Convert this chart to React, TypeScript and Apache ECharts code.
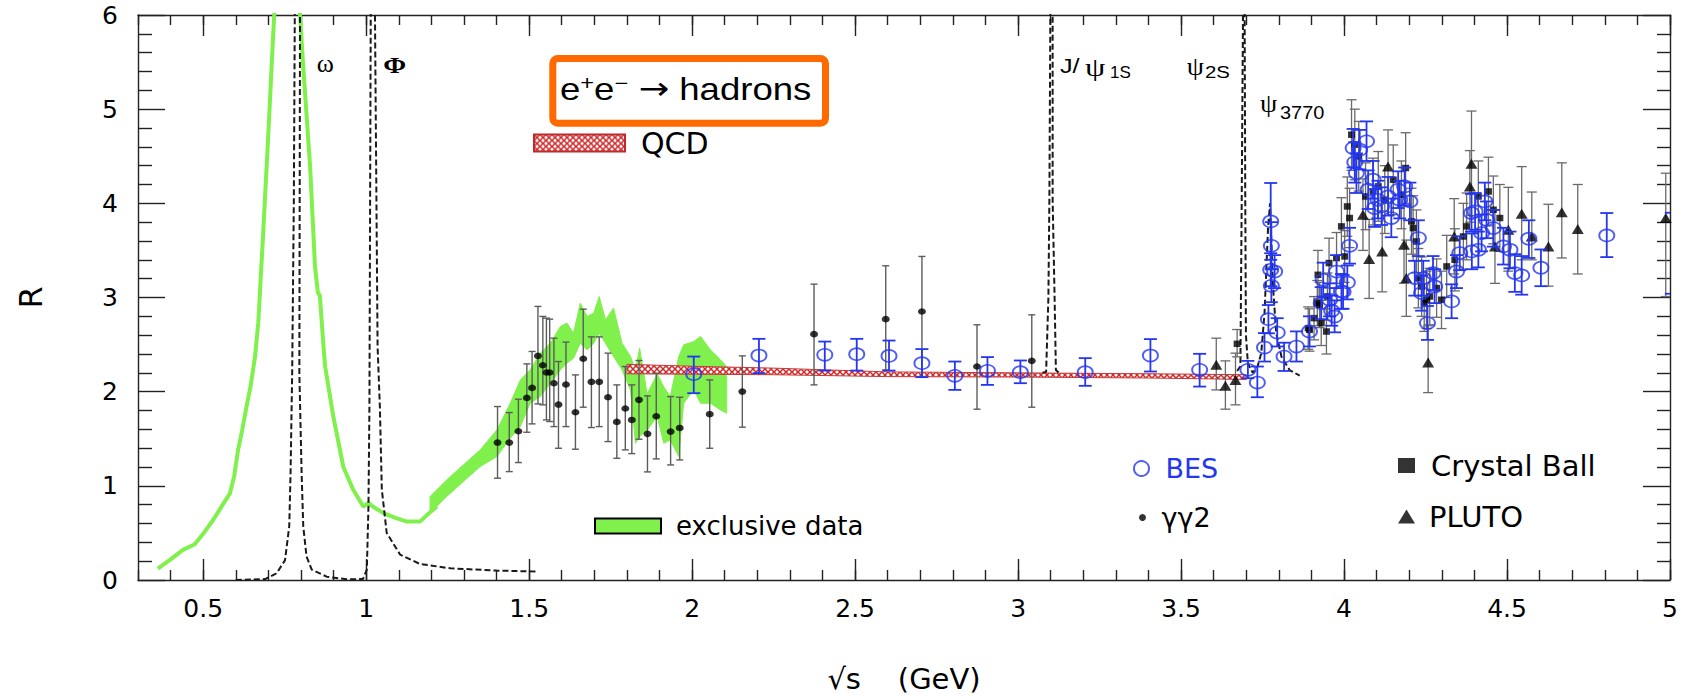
import React, { useEffect, useRef } from "react";
import * as echarts from "echarts";

// ---------------- axis ticks ----------------
const X_MAJOR = [0.5, 1, 1.5, 2, 2.5, 3, 3.5, 4, 4.5, 5];

// ---------------- exclusive data (green) ----------------
const exclLineX = [0.361, 0.4, 0.438, 0.474, 0.5, 0.531, 0.56, 0.582, 0.595, 0.607, 0.62, 0.633, 0.645, 0.659, 0.669, 0.684, 0.7, 0.715, 0.724, 0.757, 0.79, 0.807, 0.828, 0.843, 0.852, 0.858, 0.869, 0.874, 0.899, 0.93, 0.96, 0.991, 1.007, 1.02, 1.053, 1.09, 1.125, 1.165, 1.19, 1.217];
const exclLineY = [0.12, 0.22, 0.32, 0.38, 0.49, 0.64, 0.8, 0.92, 1.1, 1.38, 1.6, 1.84, 2.05, 2.37, 2.73, 3.68, 4.75, 5.81, 6.4, 7.5, 6.4, 5.45, 4.39, 3.33, 3.05, 3.02, 2.48, 2.27, 1.74, 1.2, 0.96, 0.78, 0.82, 0.78, 0.71, 0.66, 0.62, 0.62, 0.7, 0.78];

const exclBandX = [1.196, 1.247, 1.298, 1.35, 1.401, 1.442, 1.473, 1.503, 1.534, 1.565, 1.596, 1.616, 1.636, 1.657, 1.678, 1.698, 1.715, 1.734, 1.759, 1.785, 1.811, 1.826, 1.839, 1.862, 1.893, 1.913, 1.933, 1.959, 1.974, 2.005, 2.026, 2.056, 2.087, 2.106];
const exclBandLo = [0.709, 0.886, 1.045, 1.205, 1.311, 1.505, 1.629, 1.877, 1.948, 2.09, 2.232, 2.302, 2.355, 2.515, 2.444, 2.515, 2.621, 2.515, 2.373, 2.232, 2.019, 1.452, 1.523, 1.594, 1.736, 1.452, 1.488, 1.311, 1.877, 2.019, 1.877, 1.877, 1.806, 1.771];
const exclBandHi = [0.886, 1.063, 1.222, 1.382, 1.594, 1.877, 2.124, 2.231, 2.409, 2.515, 2.692, 2.728, 2.621, 2.94, 2.798, 2.834, 3.011, 2.763, 2.887, 2.515, 2.373, 2.231, 2.462, 1.974, 2.19, 2.05, 1.948, 2.373, 2.497, 2.532, 2.586, 2.444, 2.338, 2.267];

// ---------------- QCD band ----------------
const qcdX = [1.8, 2.0, 2.25, 2.6, 3.0, 3.4, 3.7];
const qcdLo = [2.19, 2.185, 2.18, 2.16, 2.155, 2.145, 2.13];
const qcdHi = [2.29, 2.27, 2.25, 2.21, 2.2, 2.19, 2.18];

// ---------------- resonances (dashed) ----------------
const omegaPhiX = [0.6, 0.69, 0.725, 0.751, 0.764, 0.768, 0.773, 0.778, 0.781, 0.789, 0.797, 0.796, 0.795, 0.802, 0.807, 0.817, 0.833, 0.879, 0.94, 0.99, 1.002, 1.007, 1.01, 1.014, 1.02, 1.027, 1.035, 1.042, 1.048, 1.063, 1.104, 1.165, 1.258, 1.4, 1.52];
const omegaPhiY = [0.0, 0.01, 0.07, 0.21, 0.57, 1.13, 2.2, 4.0, 6.0, 6.8, 6.0, 4.0, 2.2, 1.13, 0.57, 0.25, 0.11, 0.035, 0.007, 0.01, 0.11, 0.78, 1.84, 6.0, 6.8, 6.0, 2.48, 1.84, 0.96, 0.5, 0.27, 0.17, 0.124, 0.1, 0.09];
const jpsiX = [3.075, 3.086, 3.093, 3.096, 3.099, 3.1025, 3.106, 3.106, 3.112, 3.116, 3.125];
const jpsiY = [2.2, 2.21, 3.0, 4.04, 6.0, 6.8, 6.0, 4.04, 3.0, 2.23, 2.2];
const psiX = [3.672, 3.682, 3.686, 3.69, 3.6925, 3.695, 3.697, 3.699, 3.705, 3.72, 3.735, 3.746, 3.756, 3.767, 3.773, 3.778, 3.782, 3.792, 3.808, 3.833, 3.864];
const psiY = [2.22, 2.27, 4.0, 6.0, 6.8, 6.0, 4.0, 2.6, 2.3, 2.2, 2.27, 2.41, 2.83, 3.75, 4.0, 3.5, 3.12, 2.62, 2.37, 2.23, 2.17];

// ---------------- BES ----------------
const besX = [2.005, 2.205, 2.407, 2.505, 2.604, 2.705, 2.806, 2.906, 3.007, 3.206, 3.406, 3.557, 3.705, 3.734, 3.756, 3.768, 3.775, 3.777, 3.775, 3.787, 3.777, 3.795, 3.816, 3.854, 3.894, 3.93, 3.936, 3.956, 3.962, 3.971, 3.977, 3.992, 3.997, 4.01, 4.017, 4.028, 4.033, 4.038, 4.048, 4.069, 4.074, 4.089, 4.094, 4.104, 4.115, 4.135, 4.145, 4.166, 4.171, 4.186, 4.202, 4.217, 4.228, 4.238, 4.243, 4.256, 4.273, 4.278, 4.33, 4.345, 4.355, 4.391, 4.392, 4.402, 4.412, 4.422, 4.432, 4.437, 4.458, 4.489, 4.509, 4.524, 4.545, 4.567, 4.604, 4.806, 5.004];
const besY = [2.186, 2.384, 2.391, 2.398, 2.38, 2.303, 2.168, 2.221, 2.207, 2.207, 2.384, 2.232, 2.232, 2.097, 2.469, 2.77, 3.808, 3.549, 3.294, 3.276, 3.124, 2.628, 2.373, 2.479, 2.639, 2.94, 3.188, 2.976, 2.86, 2.798, 3.276, 3.064, 3.06, 3.16, 3.549, 4.587, 4.435, 4.322, 4.57, 4.658, 4.145, 4.251, 3.95, 4.038, 3.967, 4.073, 3.844, 4.145, 4.038, 4.18, 4.02, 3.206, 3.631, 3.047, 3.206, 2.728, 3.259, 3.117, 2.958, 3.276, 3.472, 3.897, 3.489, 3.914, 3.507, 3.684, 4.02, 3.826, 3.737, 3.542, 3.507, 3.259, 3.234, 3.624, 3.316, 3.659, 3.47];
const besLo = [1.984, 2.196, 2.224, 2.224, 2.224, 2.154, 2.019, 2.072, 2.09, 2.062, 2.214, 2.054, 2.143, 1.941, 2.32, 2.62, 3.4, 3.3, 3.12, 3.1, 2.95, 2.48, 2.22, 2.32, 2.48, 2.77, 3.01, 2.8, 2.7, 2.63, 3.1, 2.88, 2.88, 2.98, 3.36, 4.38, 4.22, 4.11, 4.36, 4.45, 3.94, 4.05, 3.75, 3.84, 3.77, 3.87, 3.64, 3.95, 3.84, 3.98, 3.82, 3.02, 3.44, 2.86, 3.02, 2.55, 3.08, 2.94, 2.78, 3.1, 3.29, 3.7, 3.3, 3.72, 3.32, 3.49, 3.82, 3.63, 3.54, 3.35, 3.31, 3.06, 3.03, 3.42, 3.12, 3.429, 3.04];
const besHi = [2.373, 2.561, 2.532, 2.561, 2.543, 2.452, 2.32, 2.367, 2.331, 2.356, 2.558, 2.402, 2.327, 2.267, 2.622, 2.92, 4.216, 3.8, 3.47, 3.45, 3.3, 2.78, 2.52, 2.64, 2.8, 3.11, 3.37, 3.15, 3.02, 2.97, 3.45, 3.25, 3.24, 3.34, 3.74, 4.79, 4.65, 4.53, 4.78, 4.87, 4.35, 4.45, 4.15, 4.24, 4.17, 4.28, 4.05, 4.34, 4.24, 4.38, 4.22, 3.39, 3.82, 3.23, 3.39, 2.91, 3.44, 3.3, 3.14, 3.45, 3.65, 4.1, 3.68, 4.11, 3.7, 3.88, 4.22, 4.02, 3.93, 3.74, 3.7, 3.46, 3.44, 3.82, 3.51, 3.897, 3.9];

// ---------------- gamma gamma 2 ----------------
const ggX = [1.403, 1.439, 1.467, 1.493, 1.509, 1.527, 1.542, 1.553, 1.563, 1.576, 1.59, 1.613, 1.642, 1.666, 1.691, 1.715, 1.742, 1.769, 1.795, 1.815, 1.837, 1.863, 1.89, 1.934, 1.962, 2.054, 2.154, 2.374, 2.594, 2.705, 2.874, 3.042];
const ggY = [1.459, 1.459, 1.58, 1.934, 2.04, 2.38, 2.281, 2.203, 2.203, 2.09, 1.863, 2.076, 1.782, 2.349, 2.104, 2.104, 1.941, 1.679, 1.821, 1.7, 1.913, 1.552, 1.739, 1.576, 1.615, 1.761, 2.001, 2.611, 2.77, 2.851, 2.267, 2.327];
const ggLo = [1.081, 1.151, 1.247, 1.569, 1.658, 1.87, 1.86, 1.7, 1.683, 1.629, 1.399, 1.629, 1.389, 1.835, 1.619, 1.629, 1.47, 1.293, 1.382, 1.342, 1.495, 1.148, 1.286, 1.222, 1.275, 1.399, 1.623, 2.072, 2.23, 2.161, 1.814, 1.835];
const ggHi = [1.842, 1.778, 1.92, 2.295, 2.427, 2.905, 2.799, 2.781, 2.77, 2.568, 2.32, 2.526, 2.178, 2.876, 2.582, 2.582, 2.409, 2.072, 2.267, 2.072, 2.331, 1.955, 2.196, 1.948, 1.941, 2.125, 2.38, 3.142, 3.337, 3.436, 2.71, 2.816];

// ---------------- Crystal Ball ----------------
const cbX = [3.672, 3.89, 3.894, 3.908, 3.918, 3.92, 3.925, 3.93, 3.946, 3.949, 3.954, 3.977, 3.992, 4.002, 4.01, 4.017, 4.023, 4.033, 4.045, 4.066, 4.089, 4.105, 4.125, 4.151, 4.176, 4.189, 4.207, 4.212, 4.222, 4.228, 4.238, 4.246, 4.253, 4.263, 4.284, 4.299, 4.315, 4.34, 4.366, 4.376, 4.412, 4.443, 4.458, 4.478];
const cbY = [2.508, 2.675, 2.657, 2.781, 2.94, 3.241, 2.922, 2.728, 2.639, 3.011, 3.366, 3.419, 3.755, 3.436, 3.967, 3.844, 4.729, 4.623, 4.499, 4.073, 4.126, 4.18, 4.038, 4.251, 4.091, 4.375, 3.808, 3.737, 3.595, 3.206, 3.117, 2.941, 2.976, 3.011, 3.1, 2.976, 3.33, 3.401, 3.648, 3.755, 4.073, 4.126, 3.932, 3.844];
const cbLo = [2.37, 2.45, 2.43, 2.55, 2.7, 2.98, 2.68, 2.49, 2.4, 2.76, 3.1, 3.15, 3.45, 3.16, 3.65, 3.53, 4.35, 4.25, 4.13, 3.72, 3.77, 3.81, 3.68, 3.88, 3.73, 4.0, 3.46, 3.39, 3.26, 2.89, 2.8, 2.64, 2.67, 2.71, 2.79, 2.67, 3.0, 3.07, 3.3, 3.4, 3.7, 3.76, 3.57, 3.49];
const cbHi = [2.66, 2.9, 2.88, 3.01, 3.18, 3.5, 3.16, 2.97, 2.88, 3.26, 3.63, 3.69, 4.06, 3.71, 4.28, 4.16, 5.1, 5.0, 4.87, 4.43, 4.48, 4.55, 4.4, 4.62, 4.45, 4.75, 4.16, 4.08, 3.93, 3.52, 3.43, 3.24, 3.28, 3.31, 3.41, 3.28, 3.66, 3.73, 4.0, 4.11, 4.45, 4.49, 4.29, 4.2];

// ---------------- PLUTO ----------------
const plutoX = [3.608, 3.636, 3.667, 4.058, 4.077, 4.117, 4.135, 4.184, 4.191, 4.258, 4.338, 4.386, 4.391, 4.463, 4.504, 4.545, 4.576, 4.627, 4.668, 4.717, 4.987];
const plutoY = [2.285, 2.062, 2.125, 3.879, 3.41, 3.489, 4.392, 3.56, 3.206, 2.31, 3.648, 4.18, 4.421, 3.542, 3.719, 3.889, 3.648, 3.542, 3.904, 3.727, 3.844];
const plutoLo = [2.019, 1.814, 1.86, 3.5, 2.99, 3.06, 4.0, 3.15, 2.8, 1.99, 3.25, 3.8, 3.87, 3.15, 3.28, 3.4, 3.4, 3.12, 3.42, 3.25, 3.01];
const plutoHi = [2.568, 2.327, 2.409, 4.26, 3.83, 3.92, 4.78, 3.97, 3.61, 2.7, 4.05, 4.56, 4.98, 3.93, 4.17, 4.39, 4.12, 3.99, 4.43, 4.2, 4.32];

const GREEN = "#80f04c";
const BLUE = "#2436f0";
const AXIS = "#222";

const zip2 = (a: number[], b: number[]) => a.map((v, i) => [v, b[i]]);
const zip3 = (a: number[], b: number[], c: number[]) => a.map((v, i) => [v, b[i], c[i]]);

function makeHatch(): string {
  const c = document.createElement("canvas");
  c.width = 6;
  c.height = 6;
  const g = c.getContext("2d") as CanvasRenderingContext2D;
  g.fillStyle = "#ffffff";
  g.fillRect(0, 0, 6, 6);
  g.strokeStyle = "#cc2a2a";
  g.lineWidth = 1.5;
  g.beginPath();
  g.moveTo(0, 0);
  g.lineTo(6, 6);
  g.moveTo(6, 0);
  g.lineTo(0, 6);
  g.stroke();
  return c.toDataURL();
}

const bandItem = (xs: number[], lo: number[], hi: number[], style: any) => (params: any, api: any) => {
  if (params.dataIndex !== 0) return null;
  const pts: number[][] = [];
  for (let i = 0; i < xs.length; i++) pts.push(api.coord([xs[i], hi[i]]));
  for (let i = xs.length - 1; i >= 0; i--) pts.push(api.coord([xs[i], lo[i]]));
  return { type: "polygon", shape: { points: pts }, style };
};

const errItem = (color: string, cap: number, width: number) => (params: any, api: any) => {
  const x = api.value(0);
  const a = api.coord([x, api.value(1)]);
  const b = api.coord([x, api.value(2)]);
  const h = cap / 2;
  const st = { stroke: color, lineWidth: width };
  return {
    type: "group",
    children: [
      { type: "line", shape: { x1: a[0], y1: a[1], x2: b[0], y2: b[1] }, style: st },
      { type: "line", shape: { x1: a[0] - h, y1: a[1], x2: a[0] + h, y2: a[1] }, style: st },
      { type: "line", shape: { x1: b[0] - h, y1: b[1], x2: b[0] + h, y2: b[1] }, style: st },
    ],
  };
};

const mkLegend = (name: string, left: number, top: number, w: number, h: number, icon: string, itemStyle: any, size: number, pad: number, color = "#000") => ({
  show: true,
  selectedMode: false,
  orient: "horizontal",
  left,
  top,
  padding: 0,
  itemWidth: w,
  itemHeight: h,
  symbolKeepAspect: false,
  data: [{ name, icon, itemStyle }],
  formatter: (n: string) => `{t|${n}}`,
  textStyle: {
    fontFamily: "DejaVu Sans",
    fontSize: size,
    color,
    rich: { t: { fontFamily: "DejaVu Sans", fontSize: size, color, lineHeight: size, padding: [0, 0, 0, pad] } },
  },
});

export default function App() {
  const ref = useRef<HTMLDivElement>(null);

  useEffect(() => {
    if (!ref.current) return;
    const chart = echarts.init(ref.current, undefined, { renderer: "svg" });
    const hatch = { image: makeHatch(), repeat: "repeat", imageWidth: 6, imageHeight: 6 };
    const axisLine = { show: true, onZero: false, lineStyle: { color: AXIS, width: 1.4 } };
    const tickLine = { color: AXIS, width: 1.4 };
    const xBase: any = { type: "value", min: 0.3, max: 5, splitLine: { show: false }, axisLabel: { show: false } };
    const yBase: any = { type: "value", min: 0, max: 6, interval: 1, splitLine: { show: false }, minorSplitLine: { show: false } };
    const labelFont = { fontFamily: "DejaVu Sans", fontSize: 25, color: "#000" };
    const txt = (text: string, x: number, y: number, family: string, size: number, scaleX = 1, weight = "normal") => ({
      type: "text", x, y, scaleX, z: 100,
      style: { text, fontFamily: family, fontSize: size, fontWeight: weight, fill: "#000", align: "left", verticalAlign: "middle" },
    });

    const option: any = {
      animation: false,
      backgroundColor: "#ffffff",
      textStyle: { fontFamily: "DejaVu Sans" },
      grid: { left: 138, right: 19, top: 15, bottom: 116, containLabel: false, outerBoundsMode: "none" },
      xAxis: [
        {
          ...xBase,
          position: "bottom",
          axisLine,
          axisTick: { show: true, inside: true, length: 21, customValues: X_MAJOR, lineStyle: tickLine },
          axisLabel: { show: true, customValues: X_MAJOR, formatter: (v: number) => String(v), margin: 16, ...labelFont },
          name: "√s    (GeV)",
          nameLocation: "middle",
          nameGap: 84,
          nameTextStyle: { fontFamily: "DejaVu Sans", fontSize: 29, color: "#000" },
        },
        { ...xBase, position: "bottom", interval: 0.1, axisLine: { show: false, onZero: false }, axisTick: { show: true, inside: true, length: 10, lineStyle: tickLine } },
        { ...xBase, position: "top", axisLine, axisTick: { show: true, inside: true, length: 21, customValues: X_MAJOR, lineStyle: tickLine } },
        { ...xBase, position: "top", interval: 0.1, axisLine: { show: false, onZero: false }, axisTick: { show: true, inside: true, length: 10, lineStyle: tickLine } },
      ],
      yAxis: [
        {
          ...yBase,
          position: "left",
          axisLine,
          axisTick: { show: true, inside: true, length: 27, lineStyle: tickLine },
          minorTick: { show: true, splitNumber: 5, length: 14, lineStyle: tickLine },
          axisLabel: { show: true, margin: 20, ...labelFont },
          name: "R",
          nameLocation: "middle",
          nameRotate: 90,
          nameGap: 91,
          nameTextStyle: { fontFamily: "DejaVu Sans", fontSize: 32, color: "#000" },
        },
        {
          ...yBase,
          position: "right",
          axisLine,
          axisTick: { show: true, inside: true, length: 27, lineStyle: tickLine },
          minorTick: { show: true, splitNumber: 5, length: 13, lineStyle: tickLine },
          axisLabel: { show: false },
        },
      ],
      legend: [
        mkLegend("QCD", 533, 128, 91, 17, "rect", { color: hatch, borderColor: "#c0282d", borderWidth: 2 }, 30, 11),
        mkLegend("exclusive data", 594, 513, 66, 15, "rect", { color: GREEN, borderColor: "#000", borderWidth: 2 }, 26, 10),
        mkLegend("BES", 1133, 455, 20, 15, "circle", { color: "#fff", borderColor: BLUE, borderWidth: 2 }, 27, 9, BLUE),
        mkLegend("γγ2", 1139, 504, 8, 7, "circle", { color: "#000", borderWidth: 0 }, 27, 10),
        mkLegend("Crystal Ball", 1398, 451, 17, 15, "rect", { color: "#000", borderWidth: 0 }, 29, 11),
        mkLegend("PLUTO", 1398, 502, 17, 14, "triangle", { color: "#000", borderWidth: 0 }, 29, 9),
      ],
      graphic: [
        { type: "rect", shape: { x: 552.8, y: 58.5, width: 272.7, height: 64.7, r: 5 }, style: { fill: "#fff", stroke: "#ff6a00", lineWidth: 7 }, z: 100 },
        {
          type: "text", x: 560, y: 88.6, scaleX: 1.18, z: 101,
          style: {
            text: "{m|e}{s|+}{m|e}{s|−}{m| }{a|→}{m| hadrons}",
            align: "left", verticalAlign: "middle",
            rich: {
              m: { fontFamily: "Liberation Sans", fontSize: 31, fill: "#000" },
              a: { fontFamily: "DejaVu Sans", fontSize: 31, fill: "#000" },
              s: { fontFamily: "Liberation Sans", fontSize: 20, fill: "#000", verticalAlign: "top" },
            },
          },
        },
        txt("ω", 316.7, 63, "Liberation Serif", 26),
        txt("Φ", 383.3, 64.7, "Liberation Serif", 23, 1.2, "bold"),
        txt("J/", 1060, 66, "Liberation Sans", 21, 1.2),
        txt("ψ", 1085, 67.3, "Liberation Serif", 25, 1.3),
        txt("1S", 1110, 72.5, "Liberation Sans", 17),
        txt("ψ", 1186.7, 67.3, "Liberation Serif", 25, 1.1),
        txt("2S", 1205, 72.5, "Liberation Sans", 17, 1.2),
        txt("ψ", 1260, 104, "Liberation Serif", 25, 1.1),
        txt("3770", 1280, 111.7, "Liberation Sans", 19, 1.05),
      ],
      series: [
        {
          name: "exclusive data", type: "custom", silent: true, clip: true,
          renderItem: bandItem(exclBandX, exclBandLo, exclBandHi, { fill: GREEN, stroke: GREEN, lineWidth: 1 }),
          data: zip3(exclBandX, exclBandLo, exclBandHi), encode: { x: 0, y: [1, 2] },
          itemStyle: { color: GREEN }, z: 1,
        },
        {
          name: "exclusive data", type: "line", silent: true, clip: true, symbol: "none", showSymbol: false,
          data: zip2(exclLineX, exclLineY), lineStyle: { color: GREEN, width: 4 }, itemStyle: { color: GREEN }, z: 1,
        },
        {
          name: "QCD", type: "custom", silent: true, clip: true,
          renderItem: bandItem(qcdX, qcdLo, qcdHi, { fill: hatch, stroke: "#c8383a", lineWidth: 1 }),
          data: zip3(qcdX, qcdLo, qcdHi), encode: { x: 0, y: [1, 2] }, itemStyle: { color: "#c8383a" }, z: 2,
        },
        ...[
          ["ω, Φ", omegaPhiX, omegaPhiY],
          ["J/ψ", jpsiX, jpsiY],
          ["ψ(2S), ψ(3770)", psiX, psiY],
        ].map(([n, xs, ys]: any) => ({
          name: n, type: "line", silent: true, clip: true, symbol: "none", showSymbol: false,
          data: zip2(xs, ys), lineStyle: { color: "#1a1a1a", width: 2, type: [6, 3] }, itemStyle: { color: "#1a1a1a" }, z: 3,
        })),
        {
          name: "γγ2 errors", type: "custom", silent: true, clip: true, renderItem: errItem("#5c5c5c", 7, 1.4),
          data: zip3(ggX, ggLo, ggHi), encode: { x: 0, y: [1, 2] }, itemStyle: { color: "#5c5c5c" }, z: 4,
        },
        {
          name: "Crystal Ball errors", type: "custom", silent: true, clip: true, renderItem: errItem("#6a6a6a", 10, 1.3),
          data: zip3(cbX, cbLo, cbHi), encode: { x: 0, y: [1, 2] }, itemStyle: { color: "#6a6a6a" }, z: 4,
        },
        {
          name: "PLUTO errors", type: "custom", silent: true, clip: true, renderItem: errItem("#6a6a6a", 10, 1.3),
          data: zip3(plutoX, plutoLo, plutoHi), encode: { x: 0, y: [1, 2] }, itemStyle: { color: "#6a6a6a" }, z: 4,
        },
        { name: "γγ2", type: "scatter", silent: true, symbol: "circle", symbolSize: [8, 6.5], data: zip2(ggX, ggY), itemStyle: { color: "#000" }, z: 5 },
        { name: "Crystal Ball", type: "scatter", silent: true, symbol: "rect", symbolSize: [7, 6.5], data: zip2(cbX, cbY), itemStyle: { color: "#000" }, z: 5 },
        { name: "PLUTO", type: "scatter", silent: true, symbol: "triangle", symbolSize: [12, 10], data: zip2(plutoX, plutoY), itemStyle: { color: "#000" }, z: 5 },
        {
          name: "BES errors", type: "custom", silent: true, clip: true, renderItem: errItem(BLUE, 13, 1.8),
          data: zip3(besX, besLo, besHi), encode: { x: 0, y: [1, 2] }, itemStyle: { color: BLUE }, z: 6,
        },
        {
          name: "BES", type: "scatter", silent: true, clip: true, symbol: "circle", symbolSize: [15, 12],
          data: zip2(besX, besY), itemStyle: { color: "rgba(255,255,255,0)", borderColor: BLUE, borderWidth: 1.8 }, z: 7,
        },
      ],
    };
    chart.setOption(option);
    return () => chart.dispose();
  }, []);

  return (
    <div
      ref={ref}
      style={{ position: "fixed", left: 0, top: 0, width: 1689, height: 696, background: "#fff" }}
    />
  );
}
